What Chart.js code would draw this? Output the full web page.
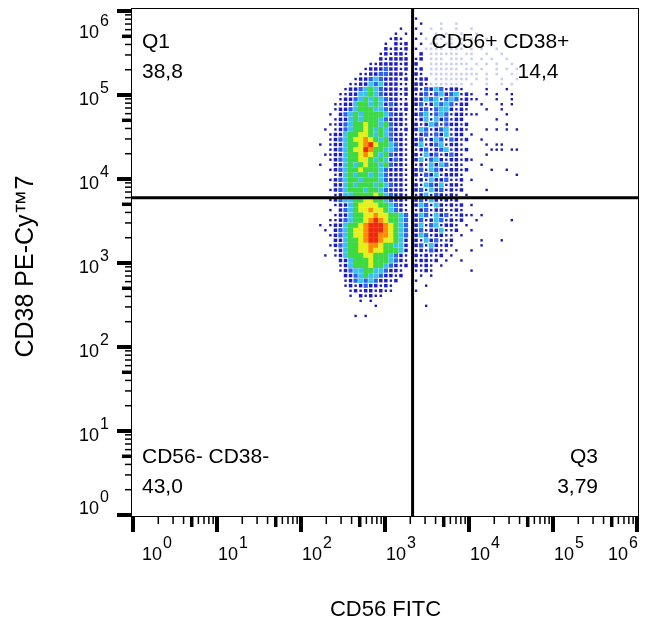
<!DOCTYPE html>
<html>
<head>
  <meta charset="utf-8">
  <script src="https://cdn.jsdelivr.net/npm/chart.js"></script>
  <style>
    body { margin: 0; background: #fff; }
    canvas { display: block; }
  </style>
</head>
<body>
  <canvas id="facsChart" width="649" height="624"></canvas>

  <script>
    // axis ranges, in decades
    const xRangeLog = [-0.012, 6.024];
    const yRangeLog = [-0.024, 6.036];
    const decades = [0, 1, 2, 3, 4, 5, 6];
    const minorSteps = [2, 3, 4, 5, 6, 7, 8, 9];

    const xTitle = 'CD56 FITC';
    const yTitle = 'CD38 PE-Cy\u21227';

    // quadrant gate position
    const gateX = 2130;
    const gateY = 5970;

    // quadrant names and percentages: upper left, upper right, lower left, lower right
    const quadrantNames = ['Q1', 'CD56+ CD38+', 'CD56- CD38-', 'Q3'];
    const quadrantValues = ['38,8', '14,4', '43,0', '3,79'];

    // density map: one char per bin
    // bins are 0.06 decade wide, first bin centre at 10^2.23 (x) and 10^5.97 (y)
    const binStartX = 2.23;
    const binStartY = 5.97;
    const binWidth = 0.06;
    const densityRows = [
      "",
      "                   .",
      "                    .   l  l",
      "                .  .  l l  l  l",
      "               . .  .  l l  l  l",
      "              .b.  . l ll l l l  l",
      "             . b.b  . ll ll l  l  l",
      "             b.b.b . llll lll l l  l",
      "            .b.bb.  b llllll ll  l  l",
      "            b.bbbb .b lll lll l l l  l",
      "          ..bbbb.b b  llllllll l l l  l",
      "         .bbbBbb.b .b llllll ll l  l l l",
      "        ..bbBBbbb. b. llllllllll l l  l",
      "       .bbBcBbbb.b .bb lllllll l l  l  l",
      "      ..bbcBcbbb.. bb.lllllll l  l  l l",
      "     .bbBcgcBbbb.b b.BbcB.bb.    .   .",
      "    ..bbccgcBbbb.b .bB.BcbBc.b.  . .  .",
      "    .bbBcgcgcBbb.. bbcBc.BcB.b..   .  .",
      "   ..bbcggcgcbBb.b bB.bcBcB.bb  .   . .",
      "   .bbBcgggccBbb.b .bB.Bccb.b.   .  .",
      "  . bBcgcggggcBbb. bBc.BcB.bb...     .",
      "   .bbcgcgggcBbbb. .bc.cbB.bb      .",
      "  ..bBcggyggcgBbb. b.bcB.Bbb.b       .",
      " . .bBcggygcgcBb.b bcB.bBc.bb.   . . . .",
      "  .bbcggyygcgcBbb. .bB.Bbc.bb .",
      "  .bBcgyyoygcgBbb. bB.bcB.Bb.b  .",
      ". .bbcggyoryggcBb. bc.bBc.bb.    . ..",
      "  .bBcgyyroggccBb. .bB.bBc.b.b    ... ..",
      " ..bbcggyoygcgBbb. b.cbB.bBb.    .",
      "  .bBcggyygcgcbBb. bc.Bcb.bb.b.",
      ".  bbcgcgyggcgBbb. .b.cbcB.b.   .",
      "  .bBcggygggcBbbb. bB.cBb.bb.b    .  .",
      "   .bcgcggcgcBbbb. b.Bbc.bbb.          .",
      "  .bBcggcgggcBbbb. .b.cbbB..b .",
      "   bbcgcgggcgcBbb. b.cBbc.bb.",
      "  .bBcgggcggcBbbb. bB.cbB.b.b    .",
      "   .bccggggygcBbb. .bc.Bb.b. .",
      "  .bBccggyyggcBbb. bB.cb.b.b",
      "   .bbcgyyyyggcBb. bcB.cb.b.b .",
      "  . bBcgyyoyygcBb. .bB.bb..b.",
      "   .bbcggyyoyyggcB bcB.cbB..b.. .",
      "  ..bBcggyoroyggcB bB.bcB.b.b  .      .",
      ". .bbcggyorrroygcB bc.Bc.bb. .",
      " . bBcgyyorrroygcB bB.bbc..b  .",
      "  .bBcgyyorrooygcB bcB.bb.. .",
      "   bbcggyorroyygcb b.cbB..b     .   .",
      "  .bBcggyyooyggccb bB.cb.b.     .",
      "   .bcggyyoyygggcb .b.Bb.. .  .",
      " . .bcgggyygggcBb. b.b..b .",
      "    bbcgggygggcBb. .bb.b .  .",
      "    .bcgggyggcBb.b b.b. .",
      "    .bBccggccBbb.  ..b.       .",
      "     bbBcgccBbb.b   . .",
      "     .bBcBcBbb.b   .",
      "     .b.bBbb.b.      .",
      "      .b.bb.b..    .",
      "      . b.b..",
      "        . .",
      "           .         .",
      "",
      "       . ."
    ];

    const cellStyles = {
      '.': { color: '#1b1ba8', radius: 1.7 },
      'l': { color: '#c9cfee', radius: 1.8 },
      'b': { color: '#1c1cc9', radius: 2.45 },
      'B': { color: '#2c62f2', radius: 3.0 },
      'c': { color: '#3cc3ea', radius: 3.4 },
      'g': { color: '#3ed944', radius: 3.7 },
      'y': { color: '#e6ee1c', radius: 3.7 },
      'o': { color: '#ff8a05', radius: 3.7 },
      'r': { color: '#ee2a0c', radius: 3.7 }
    };

    const FONT = "'Liberation Sans', Arial, sans-serif";

    const xMin = Math.pow(10, xRangeLog[0]);
    const xMax = Math.pow(10, xRangeLog[1]);
    const yMin = Math.pow(10, yRangeLog[0]);
    const yMax = Math.pow(10, yRangeLog[1]);

    // turn the density map into one scatter dataset per colour level
    const cellPoints = {};
    Object.keys(cellStyles).forEach(k => { cellPoints[k] = []; });
    densityRows.forEach((row, j) => {
      for (let i = 0; i < row.length; i++) {
        const ch = row[i];
        if (!cellPoints[ch]) continue;
        cellPoints[ch].push({
          x: Math.pow(10, binStartX + i * binWidth),
          y: Math.pow(10, binStartY - j * binWidth)
        });
      }
    });

    const densitySets = Object.keys(cellStyles).map(k => ({
      label: 'density ' + k,
      data: cellPoints[k],
      pointStyle: 'rect',
      pointRadius: cellStyles[k].radius,
      pointBackgroundColor: cellStyles[k].color,
      pointBorderWidth: 0
    }));

    const gateLines = [
      { type: 'line', label: 'gate x', data: [{ x: gateX, y: yMin }, { x: gateX, y: yMax }] },
      { type: 'line', label: 'gate y', data: [{ x: xMin, y: gateY }, { x: xMax, y: gateY }] }
    ].map(d => Object.assign(d, {
      borderColor: '#000', borderWidth: 3, pointRadius: 0, showLine: true
    }));

    function drawPower(ctx, exp, x, baseline, align) {
      const baseFont = '18px ' + FONT;
      const supFont = '16px ' + FONT;
      ctx.font = baseFont;
      const wBase = ctx.measureText('10').width;
      ctx.font = supFont;
      const wExp = ctx.measureText(String(exp)).width;
      const left = align === 'right' ? x - wBase - wExp - 1 : x;
      ctx.textAlign = 'left';
      ctx.font = baseFont;
      ctx.fillText('10', left, baseline);
      ctx.font = supFont;
      ctx.fillText(String(exp), left + wBase + 1, baseline - 12);
    }

    const facsAxes = {
      id: 'facsAxes',
      afterDraw(chart) {
        const { ctx, chartArea: a } = chart;
        const xs = chart.scales.x;
        const ys = chart.scales.y;
        ctx.save();
        ctx.fillStyle = '#000';
        ctx.strokeStyle = '#000';
        ctx.lineWidth = 1;
        ctx.strokeRect(a.left - 0.5, a.top + 0.5, a.width, a.height - 1);

        // tick marks
        const tickX = (v, len, w) => {
          const px = xs.getPixelForValue(v);
          ctx.fillRect(px - w / 2, a.bottom, w, len);
        };
        const tickY = (v, len, w) => {
          const py = ys.getPixelForValue(v);
          ctx.fillRect(a.left - len, py - w / 2, len, w);
        };
        decades.forEach(d => {
          const base = Math.pow(10, d);
          tickX(base, 15, 4);
          tickY(base, 15, 4);
          if (d === decades[decades.length - 1]) return;
          minorSteps.forEach(m => {
            const five = m === 5;
            tickX(m * base, five ? 10 : 7, five ? 3.5 : 1.5);
            tickY(m * base, five ? 10 : 7, five ? 3.5 : 1.5);
          });
        });

        // tick labels
        ctx.textBaseline = 'alphabetic';
        decades.forEach((d, i) => {
          const v = Math.pow(10, d);
          const px = xs.getPixelForValue(v);
          if (i === 0) drawPower(ctx, d, a.left + 10, 560, 'left');
          else if (i === decades.length - 1) drawPower(ctx, d, px + 1, 560, 'right');
          else drawPower(ctx, d, px + 1, 560, 'left');

          const py = ys.getPixelForValue(v);
          let baseline = py + 10;
          if (i === 0) baseline = a.bottom - 3;
          if (i === decades.length - 1) baseline = a.top + 30;
          drawPower(ctx, d, a.left - 23, baseline, 'right');
        });

        // axis titles
        ctx.font = '22px ' + FONT;
        ctx.textAlign = 'center';
        ctx.fillText(xTitle, (a.left + a.right) / 2, 616);
        ctx.save();
        ctx.font = '25px ' + FONT;
        ctx.translate(33, (a.top + a.bottom) / 2 + 4);
        ctx.rotate(-Math.PI / 2);
        ctx.fillText(yTitle, 0, 0);
        ctx.restore();

        // quadrant labels
        const gx = xs.getPixelForValue(gateX);
        ctx.font = '21px ' + FONT;
        ctx.textAlign = 'left';
        ctx.fillText(quadrantNames[0], a.left + 10, a.top + 40);
        ctx.fillText(quadrantValues[0], a.left + 10, a.top + 70);
        ctx.fillText(quadrantNames[1], gx + 19, a.top + 40);
        ctx.fillText(quadrantValues[1], gx + 105, a.top + 70);
        ctx.fillText(quadrantNames[2], a.left + 10, a.bottom - 54);
        ctx.fillText(quadrantValues[2], a.left + 10, a.bottom - 24);
        ctx.textAlign = 'right';
        ctx.fillText(quadrantNames[3], a.right - 41, a.bottom - 54);
        ctx.fillText(quadrantValues[3], a.right - 41, a.bottom - 24);
        ctx.restore();
      }
    };

    new Chart(document.getElementById('facsChart'), {
      type: 'scatter',
      data: { datasets: gateLines.concat(densitySets) },
      options: {
        responsive: false,
        animation: false,
        devicePixelRatio: 1,
        layout: { padding: { left: 132, top: 8, right: 10, bottom: 107 } },
        plugins: {
          legend: { display: false },
          tooltip: { enabled: false }
        },
        scales: {
          x: { type: 'logarithmic', min: xMin, max: xMax, display: false },
          y: { type: 'logarithmic', min: yMin, max: yMax, display: false }
        }
      },
      plugins: [facsAxes]
    });
  </script>
</body>
</html>
